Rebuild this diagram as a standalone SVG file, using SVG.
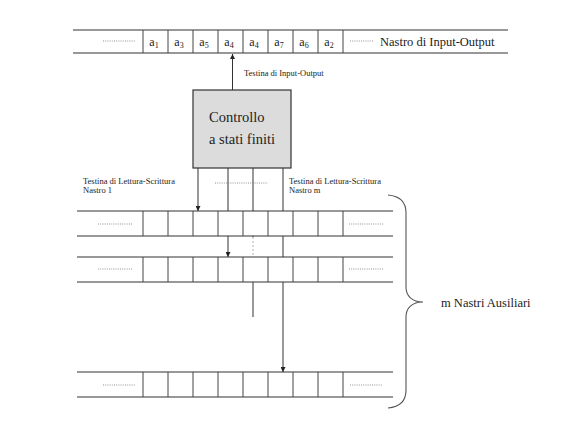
<svg xmlns="http://www.w3.org/2000/svg" width="588" height="423" viewBox="0 0 588 423">
<defs>
<marker id="ah" viewBox="0 0 10 10" refX="10" refY="5" markerWidth="5" markerHeight="5" orient="auto" markerUnits="userSpaceOnUse">
<path d="M0,0 L10,5 L0,10 z" fill="#222"/>
</marker>
<style>
.tl{stroke:#333;stroke-width:1.2;fill:none}
.cell{stroke:#444;stroke-width:1;fill:#fff}
.dot{stroke:#777;stroke-width:0.8;stroke-dasharray:1 1.2;fill:none}
.con{stroke:#333;stroke-width:1;fill:none}
.t{font-family:"Liberation Serif","Times New Roman",serif;fill:#222}
.s{font-size:8.5px}
.m{font-size:12.5px}
.c{font-size:12px}
</style>
</defs>
<rect width="588" height="423" fill="#fff"/>

<g id="connectors">
<line class="con" x1="232.5" y1="90" x2="232.5" y2="54" marker-end="url(#ah)"/>
<line class="con" x1="198" y1="168" x2="198" y2="211" marker-end="url(#ah)"/>
<line class="con" x1="228" y1="168" x2="228" y2="257" marker-end="url(#ah)"/>
<line class="con" x1="253" y1="168" x2="253" y2="237"/>
<line x1="253" y1="237" x2="253" y2="256" stroke="#999" stroke-width="0.8" stroke-dasharray="2 2"/>
<line class="con" x1="253" y1="282" x2="253" y2="317" stroke="#888"/>
<line class="con" x1="283" y1="168" x2="283" y2="372" stroke="#555" marker-end="url(#ah)"/>
<line class="dot" x1="215" y1="183" x2="268" y2="183"/>
</g>

<g id="io-tape">
<rect x="143" y="30" width="200" height="23" fill="#fff"/>
<line class="tl" x1="73" y1="30" x2="508" y2="30"/>
<line class="tl" x1="73" y1="53" x2="508" y2="53"/>
<g stroke="#444" stroke-width="1">
<line x1="143" y1="30" x2="143" y2="53"/><line x1="168" y1="30" x2="168" y2="53"/><line x1="193" y1="30" x2="193" y2="53"/><line x1="218" y1="30" x2="218" y2="53"/><line x1="243" y1="30" x2="243" y2="53"/><line x1="268" y1="30" x2="268" y2="53"/><line x1="293" y1="30" x2="293" y2="53"/><line x1="318" y1="30" x2="318" y2="53"/><line x1="343" y1="30" x2="343" y2="53"/>
</g>
<line class="dot" x1="103" y1="41" x2="135" y2="41"/>
<line class="dot" x1="350" y1="41" x2="373" y2="41"/>
<g class="t c" text-anchor="middle">
<text x="154" y="46">a<tspan font-size="8" dy="2">1</tspan></text>
<text x="179" y="46">a<tspan font-size="8" dy="2">3</tspan></text>
<text x="204" y="46">a<tspan font-size="8" dy="2">5</tspan></text>
<text x="229" y="46">a<tspan font-size="8" dy="2">4</tspan></text>
<text x="254" y="46">a<tspan font-size="8" dy="2">4</tspan></text>
<text x="279" y="46">a<tspan font-size="8" dy="2">7</tspan></text>
<text x="304" y="46">a<tspan font-size="8" dy="2">6</tspan></text>
<text x="329" y="46">a<tspan font-size="8" dy="2">2</tspan></text>
</g>
<text class="t m" x="380" y="46">Nastro di Input-Output</text>
</g>

<text class="t s" x="244" y="76">Testina di Input-Output</text>

<g id="control">
<rect x="193" y="90" width="98" height="78" fill="#dcdcdc" stroke="#333" stroke-width="1.2"/>
<text class="t" x="209" y="122" font-size="14.5">Controllo</text>
<text class="t" x="209" y="144" font-size="14.5">a stati finiti</text>
</g>

<text class="t s" x="83" y="184">Testina di Lettura-Scrittura</text>
<text class="t s" x="83" y="193">Nastro 1</text>
<text class="t s" x="289" y="184">Testina di Lettura-Scrittura</text>
<text class="t s" x="289" y="193">Nastro m</text>

<g id="tape1">
<rect x="143" y="211" width="200" height="25" fill="#fff"/>
<line class="tl" x1="77" y1="211" x2="393" y2="211"/>
<line class="tl" x1="77" y1="236" x2="393" y2="236"/>
<g stroke="#444" stroke-width="1">
<line x1="143" y1="211" x2="143" y2="236"/><line x1="168" y1="211" x2="168" y2="236"/><line x1="193" y1="211" x2="193" y2="236"/><line x1="218" y1="211" x2="218" y2="236"/><line x1="243" y1="211" x2="243" y2="236"/><line x1="268" y1="211" x2="268" y2="236"/><line x1="293" y1="211" x2="293" y2="236"/><line x1="318" y1="211" x2="318" y2="236"/><line x1="343" y1="211" x2="343" y2="236"/>
</g>
<line class="dot" x1="98" y1="224" x2="132" y2="224"/>
<line class="dot" x1="349" y1="224" x2="383" y2="224"/>
</g>

<g id="tape2">
<rect x="143" y="257" width="200" height="25" fill="#fff"/>
<line class="tl" x1="77" y1="257" x2="393" y2="257"/>
<line class="tl" x1="77" y1="282" x2="393" y2="282"/>
<g stroke="#444" stroke-width="1">
<line x1="143" y1="257" x2="143" y2="282"/><line x1="168" y1="257" x2="168" y2="282"/><line x1="193" y1="257" x2="193" y2="282"/><line x1="218" y1="257" x2="218" y2="282"/><line x1="243" y1="257" x2="243" y2="282"/><line x1="268" y1="257" x2="268" y2="282"/><line x1="293" y1="257" x2="293" y2="282"/><line x1="318" y1="257" x2="318" y2="282"/><line x1="343" y1="257" x2="343" y2="282"/>
</g>
<line class="dot" x1="98" y1="269" x2="132" y2="269"/>
<line class="dot" x1="349" y1="269" x2="383" y2="269"/>
</g>

<g id="tapem">
<rect x="143" y="372" width="200" height="25" fill="#fff"/>
<line class="tl" x1="77" y1="372" x2="393" y2="372"/>
<line class="tl" x1="77" y1="397" x2="393" y2="397"/>
<g stroke="#444" stroke-width="1">
<line x1="143" y1="372" x2="143" y2="397"/><line x1="168" y1="372" x2="168" y2="397"/><line x1="193" y1="372" x2="193" y2="397"/><line x1="218" y1="372" x2="218" y2="397"/><line x1="243" y1="372" x2="243" y2="397"/><line x1="268" y1="372" x2="268" y2="397"/><line x1="293" y1="372" x2="293" y2="397"/><line x1="318" y1="372" x2="318" y2="397"/><line x1="343" y1="372" x2="343" y2="397"/>
</g>
<line class="dot" x1="103" y1="385" x2="135" y2="385"/>
<line class="dot" x1="350" y1="385" x2="382" y2="385"/>
</g>

<g id="brace">
<path d="M388,195 C400,196 406,202 406,213 L406,287 C406,296 412,302 423,302 C412,302 406,308 406,317 L406,390 C406,401 400,407 388,408" fill="none" stroke="#555" stroke-width="1.1"/>
<text class="t m" x="441" y="307">m Nastri Ausiliari</text>
</g>
</svg>
